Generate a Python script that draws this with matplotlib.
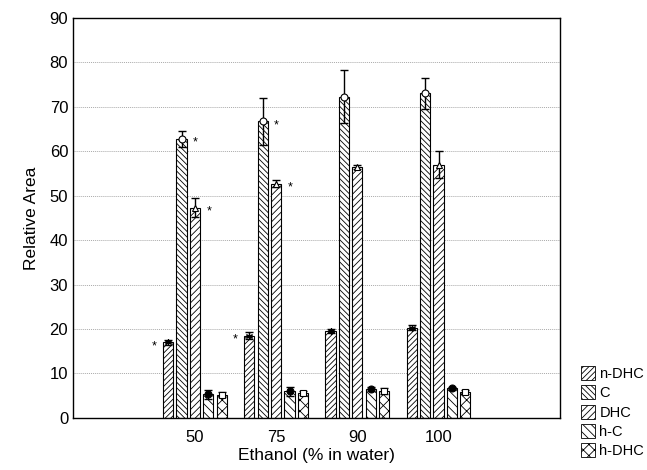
import matplotlib.pyplot as plt
import numpy as np
from matplotlib.patches import Patch

plt.rcParams['font.family'] = ['Liberation Sans', 'DejaVu Sans']
plt.rcParams['hatch.linewidth'] = 0.6

# data
categories = ['50', '75', '90', '100']
series = ['n-DHC', 'C', 'DHC', 'h-C', 'h-DHC']
n_dhc = [17.0, 18.5, 19.5, 20.3]
c = [62.8, 66.7, 72.3, 73.0]
dhc = [47.3, 52.7, 56.5, 57.0]
h_c = [5.3, 6.0, 6.5, 6.6]
h_dhc = [5.2, 5.6, 6.0, 5.8]
n_dhc_err = [0.5, 0.8, 0.5, 0.6]
c_err = [1.8, 5.3, 6.0, 3.5]
dhc_err = [2.2, 0.8, 0.5, 3.0]
h_c_err = [1.0, 1.0, 0.5, 0.3]
h_dhc_err = [0.5, 0.5, 0.6, 0.5]
# significance marks: (series index, category index, side)
stars = [(0, 0, 'left'), (1, 0, 'right'), (2, 0, 'right'),
         (0, 1, 'left'), (1, 1, 'right'), (2, 1, 'right')]

values = [n_dhc, c, dhc, h_c, h_dhc]
errors = [n_dhc_err, c_err, dhc_err, h_c_err, h_dhc_err]
hatches = ['//////', '\\\\\\\\\\\\', '/////', '\\\\\\\\', 'xxx']
markers = [(6, 2, 0), 'o', '^', 'o', 's']
mfaces = ['white', 'white', 'white', 'black', 'white']

x = np.arange(1, len(categories) + 1)
step = 0.165
width = 0.125

fig = plt.figure(figsize=(6.47, 4.70), dpi=100)
ax = fig.add_axes([0.113, 0.111, 0.753, 0.851])

for i, (vals, errs) in enumerate(zip(values, errors)):
    xs = x + (i - 2) * step
    ax.bar(xs, vals, width, color='white', edgecolor='black', hatch=hatches[i],
           linewidth=0.8, zorder=2)
    ax.errorbar(xs, vals, yerr=errs, fmt='none', ecolor='black', elinewidth=1,
                capsize=3, capthick=1, zorder=3)
    ax.plot(xs, vals, linestyle='none', marker=markers[i], markersize=5,
            markerfacecolor=mfaces[i], markeredgecolor='black', markeredgewidth=0.8,
            zorder=4)

for si, ci, side in stars:
    xs = x[ci] + (si - 2) * step
    off = -10 if side == 'left' else 10
    ax.annotate('*', xy=(xs, values[si][ci]), xytext=(off, -3), textcoords='offset points',
                ha='center', va='center', fontsize=9)

ax.set_xlim(-0.5, 5.5)
ax.set_ylim(0, 90)
ax.set_xticks(x)
ax.set_xticklabels(categories)
ax.set_yticks(np.arange(0, 91, 10))
ax.tick_params(axis='both', length=0, labelsize=12)
ax.tick_params(axis='x', pad=9)
ax.grid(axis='y', linestyle=(0, (1, 1)), color='#aaaaaa', linewidth=0.7, zorder=0)
ax.set_axisbelow(True)
for sp in ax.spines.values():
    sp.set_linewidth(1.0)

ax.set_xlabel('Ethanol (% in water)', fontsize=12.5, labelpad=2)
ax.set_ylabel('Relative Area', fontsize=12.5, labelpad=8)

handles = [Patch(facecolor='white', edgecolor='black', hatch=h, linewidth=0.6) for h in hatches]
fig.legend(handles, series, loc='lower left', bbox_to_anchor=(0.895, 0.022),
           frameon=False, fontsize=10.5, handlelength=1.0, handleheight=1.1,
           handletextpad=0.3, labelspacing=0.3, borderpad=0.1, borderaxespad=0)

fig.savefig('out.png', dpi=100)
